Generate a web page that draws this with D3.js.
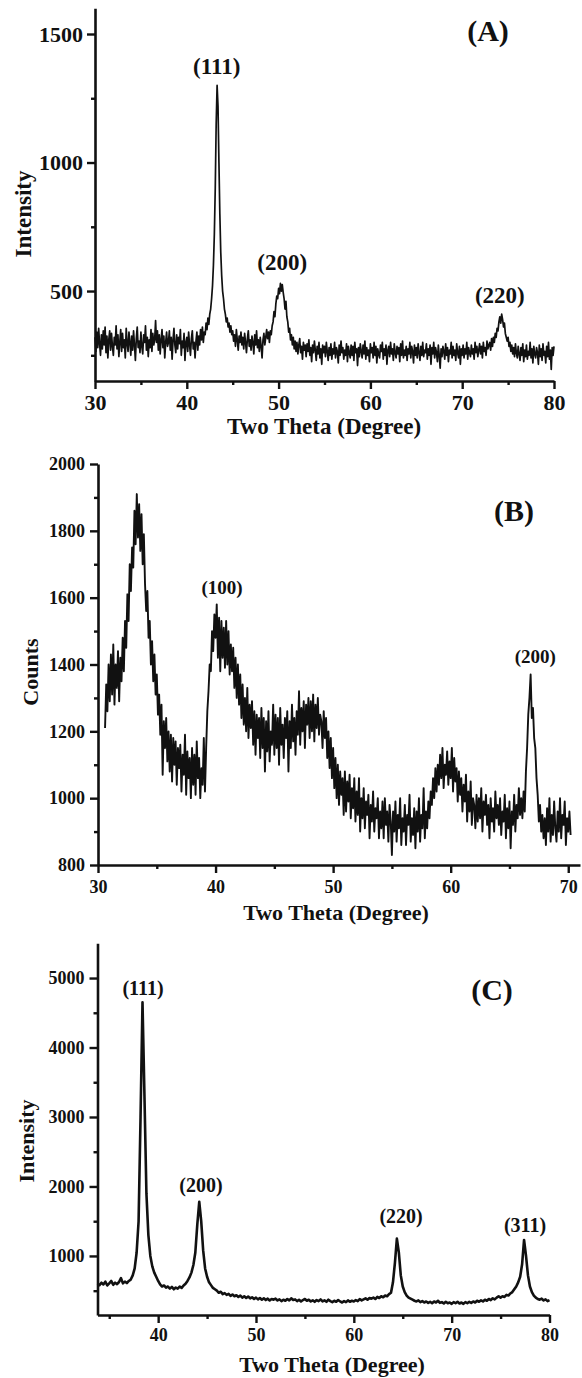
<!DOCTYPE html>
<html><head><meta charset="utf-8">
<script src="https://cdn.jsdelivr.net/npm/d3@7"></script>
<style>body{margin:0;background:#fff}svg{display:block}</style>
</head><body>
<svg id="chart" width="582" height="1378"></svg>
<script>
// ---------- Panel A data (2θ from 30.0, step 0.1) ----------
const startA = 30.0, stepA = 0.1;
const intensityA = [
320,265,340,280,355,295,250,330,275,345,
290,360,260,325,240,310,345,270,335,285,
250,320,290,365,275,330,245,300,350,265,
335,280,310,240,355,295,265,340,300,250,
325,270,345,290,230,315,360,280,305,260,
340,285,255,330,300,365,270,320,245,310,
280,350,265,335,290,310,385,300,345,270,
330,255,310,350,280,325,240,300,340,285,
300,345,270,320,235,310,355,290,260,330,
275,320,295,350,250,305,280,335,230,300,
320,265,340,290,250,315,345,275,300,240,
305,340,270,325,290,350,310,360,300,340,
330,375,350,395,370,410,430,470,520,600,
720,900,1150,1300,1220,1000,800,650,560,500,
470,430,410,380,395,360,375,340,365,330,
345,305,330,285,350,310,270,325,300,340,
290,320,275,335,300,260,315,345,285,310,
270,325,300,255,330,290,345,280,310,265,
320,285,240,310,335,290,320,350,315,340,
300,345,330,365,380,420,400,450,480,470,
510,490,530,500,525,495,470,430,460,400,
380,340,355,310,330,290,320,275,305,265,
300,255,290,315,260,285,235,300,270,290,
245,295,265,310,250,280,225,290,260,305,
270,230,285,255,300,240,275,215,290,260,
285,245,300,265,230,280,250,295,235,275,
255,300,240,280,265,220,290,250,305,260,
280,235,270,250,295,225,285,260,240,290,
250,285,230,300,260,275,210,280,245,295,
265,240,290,255,305,235,280,250,270,225,
295,260,280,240,300,250,285,220,275,255,
240,290,265,300,235,275,250,290,215,270,
285,245,300,255,275,230,295,260,240,285,
255,280,225,295,250,305,240,270,250,285,
230,275,255,300,240,285,265,220,290,250,
280,240,295,260,230,285,250,300,245,270,
260,295,235,275,250,290,215,280,255,300,
240,280,260,225,290,250,200,275,245,285,
265,235,295,250,280,225,270,255,300,240,
285,250,270,230,295,260,240,285,215,275,
250,290,240,275,255,300,235,280,260,245,
290,255,275,235,300,260,285,245,270,295,
255,285,240,300,265,280,250,305,275,290,
300,270,315,285,320,300,335,320,355,345,
380,400,375,410,390,360,375,335,320,305,
320,285,300,265,290,255,280,245,295,260,
240,285,255,230,280,250,295,225,270,245,
290,235,265,250,300,240,275,220,285,255,
240,280,260,215,290,245,275,230,295,250,
265,220,285,245,300,235,270,195,280,250,
285
];
const ticksA_xMajor = [30,40,50,60,70,80], ticksA_xMinor = [35,45,55,65,75];
const ticksA_yMajor = [500,1000,1500], ticksA_yMinor = [250,750,1250];
const peakNamesA = ["(111)","(200)","(220)"];
const peakThetaA = [43.26,50.4,74.1];
const peakLabelValA = [1346,582,455];

// ---------- Panel B data (2θ from 30.6, step 0.1) ----------
const startB = 30.6, stepB = 0.1;
const countsB = [
1210,1340,1260,1400,
1290,1430,1310,1460,1280,1400,1330,1440,1290,1420,
1350,1480,1380,1530,1450,1610,1530,1700,1620,1750,
1690,1860,1760,1910,1780,1880,1740,1850,1700,1790,
1640,1560,1620,1480,1530,1400,1470,1350,1430,1310,
1370,1250,1310,1190,1280,1070,1230,1150,1240,1110,
1200,1080,1190,1050,1180,1100,1170,1040,1150,1090,
1160,1020,1130,1070,1190,1010,1140,1060,1120,1000,
1150,1040,1130,1010,1170,1060,1120,1000,1090,1040,
1180,1020,1150,1260,1320,1400,1380,1500,1440,1550,
1480,1580,1420,1540,1380,1530,1420,1510,1390,1530,
1400,1500,1370,1460,1380,1450,1330,1420,1300,1400,
1280,1370,1240,1340,1220,1300,1200,1330,1180,1280,
1210,1290,1160,1260,1130,1250,1180,1240,1120,1270,
1150,1240,1080,1230,1140,1260,1110,1200,1160,1280,
1130,1250,1150,1240,1100,1270,1160,1220,1120,1240,
1180,1260,1080,1230,1150,1280,1170,1240,1130,1260,
1190,1320,1160,1270,1200,1290,1150,1280,1220,1300,
1180,1290,1200,1310,1170,1280,1210,1300,1190,1250,
1230,1150,1260,1180,1240,1120,1200,1090,1180,1060,
1150,1030,1120,1000,1100,980,1080,1010,1060,950,
1080,960,1050,990,1070,940,1030,970,1060,930,
1020,950,1060,900,1000,940,1030,910,990,950,
1010,880,980,930,1020,900,970,940,1000,880,
960,910,990,880,1000,920,960,870,980,930,
830,960,900,990,870,950,910,1000,860,940,
900,980,860,950,920,1010,870,940,890,970,
850,960,900,1000,870,950,910,1030,880,960,
910,990,940,1020,980,1060,1000,1090,1020,1100,
1040,1130,1060,1150,1030,1100,1070,1140,1040,1110,
1060,1150,1020,1120,1050,1090,990,1080,1010,1060,
960,1040,990,1070,930,1020,960,1050,920,1000,
980,910,1010,930,1000,940,1030,900,990,950,
1010,920,980,880,1000,930,970,900,1020,940,
980,920,1000,890,960,930,1010,880,970,910,
990,850,960,920,1010,900,980,940,1030,950,
1000,940,1020,960,1080,1150,1250,1300,1370,1240,
1270,1180,1150,1060,1010,930,980,900,950,880,
940,860,970,900,1000,870,950,890,990,910,
870,960,900,1000,880,950,920,990,860,940,
900,960,890
];
const ticksB_xMajor = [30,40,50,60,70], ticksB_xMinor = [35,45,55,65];
const ticksB_yMajor = [800,1000,1200,1400,1600,1800,2000], ticksB_yMinor = [900,1100,1300,1500,1700,1900];
const peakNamesB = ["(100)","(200)"];
const peakThetaB = [40.55,67.2];
const peakLabelValB = [1611,1405];

// ---------- Panel C data (2θ from 33.8, step 0.2) ----------
const startC = 33.8, stepC = 0.2;
const intensityC = [
600,
580,615,590,630,575, 605,640,585,615,595, 625,680,605,630,610, 640,660,720,820,1050,
1500,3000,4650,3300,1900, 1300,1000,850,760,700, 640,590,560,575,545, 560,530,555,520,545,
530,560,540,575,600, 640,690,760,870,1050, 1450,1780,1500,1080,820, 700,620,580,540,520,
500,470,485,450,465, 440,455,425,445,420, 435,410,430,400,420, 395,415,390,405,380,
400,375,395,370,390, 365,385,360,380,370, 385,360,375,350,370, 355,380,360,390,365,
375,350,370,345,365, 380,355,370,345,360, 340,365,350,375,345, 360,340,370,350,335,
355,340,365,345,330, 350,335,360,340,355, 345,365,350,380,360, 375,390,370,395,385,
400,380,410,395,420, 405,430,420,450,470, 620,900,1250,1050,720, 560,480,430,400,385,
370,355,345,360,335, 350,330,345,325,340, 320,345,330,355,325, 335,315,340,320,330,
310,335,320,340,315, 330,310,335,320,340, 325,345,330,355,340, 360,345,370,355,380,
365,390,375,400,420, 400,420,410,440,430, 460,480,520,560,620, 700,880,1230,1000,720,
560,480,430,400,380, 370,385,360,375,350,
365
];
const ticksC_xMajor = [40,50,60,70,80], ticksC_xMinor = [35,45,55,65,75];
const ticksC_yMajor = [1000,2000,3000,4000,5000], ticksC_yMinor = [500,1500,2500,3500,4500];
const peakNamesC = ["(111)","(200)","(220)","(311)"];
const peakThetaC = [38.45,44.38,64.83,77.5];
const peakLabelValC = [4756,1921,1475,1345];

const xTitle = "Two Theta (Degree)";

const FONT = "'Liberation Serif','Times New Roman',serif";
const svg = d3.select("#chart");

function panel(o) {
  const g = svg.append("g");
  const x = d3.scaleLinear().domain(o.xDomain).range(o.xRange);
  const y = d3.scaleLinear().domain(o.yDomain).range(o.yRange);
  const pts = o.values.map((v, i) => [o.start + i * o.step, v]);

  g.append("path").datum(pts)
    .attr("fill", "none").attr("stroke", "#111")
    .attr("stroke-width", o.lw).attr("stroke-linejoin", "round")
    .attr("d", d3.line().x(d => x(d[0])).y(d => y(d[1])));

  const y0 = o.yRange[0], x0 = o.xRange[0];
  g.append("g").attr("transform", `translate(0,${y0})`)
    .call(d3.axisBottom(x).tickValues(o.xMinor).tickSize(4).tickSizeOuter(0).tickFormat(""))
    .call(a => a.select(".domain").remove());
  g.append("g").attr("transform", `translate(${x0},0)`)
    .call(d3.axisLeft(y).tickValues(o.yMinor).tickSize(4).tickSizeOuter(0).tickFormat(""))
    .call(a => a.select(".domain").remove());
  const xa = g.append("g").attr("transform", `translate(0,${y0})`)
    .call(d3.axisBottom(x).tickValues(o.xMajor).tickSize(8).tickSizeOuter(0).tickPadding(o.xPad).tickFormat(d3.format("d")));
  const ya = g.append("g").attr("transform", `translate(${x0},0)`)
    .call(d3.axisLeft(y).tickValues(o.yMajor).tickSize(8).tickSizeOuter(0).tickPadding(o.yPad).tickFormat(d3.format("d")));
  [xa, ya].forEach(a => {
    a.attr("font-family", FONT).attr("font-size", o.tickFs).attr("font-weight", "bold");
    a.selectAll("text").attr("fill", "#111");
  });
  g.selectAll(".domain").attr("stroke", "#111").attr("stroke-width", 2.6);
  g.selectAll(".tick line").attr("stroke", "#111").attr("stroke-width", 2.4);

  g.append("text").attr("x", o.xTitlePos[0]).attr("y", o.xTitlePos[1])
    .attr("text-anchor", "middle").attr("font-family", FONT).attr("font-weight", "bold")
    .attr("font-size", o.titleFs).attr("fill", "#111").text(xTitle);
  g.append("text").attr("transform", `translate(${o.yTitlePos[0]},${o.yTitlePos[1]}) rotate(-90)`)
    .attr("text-anchor", "middle").attr("dominant-baseline", "central")
    .attr("font-family", FONT).attr("font-weight", "bold")
    .attr("font-size", o.titleFs).attr("fill", "#111").text(o.yTitle);

  g.append("text").attr("x", o.letterPos[0]).attr("y", o.letterPos[1])
    .attr("text-anchor", "middle").attr("font-family", FONT).attr("font-weight", "bold")
    .attr("font-size", 30).attr("fill", "#111").text(o.letter);

  g.selectAll("text.peak").data(o.peakNames).enter().append("text")
    .attr("class", "peak")
    .attr("x", (d, i) => x(o.peakTheta[i])).attr("y", (d, i) => y(o.peakVal[i]))
    .attr("text-anchor", "middle").attr("font-family", FONT).attr("font-weight", "bold")
    .attr("font-size", o.peakFs).attr("fill", "#111").text(d => d);
}

panel({
  values: intensityA, start: startA, step: stepA,
  xDomain: [30, 80], xRange: [95, 554], yDomain: [150, 1600], yRange: [381, 8.3],
  xMajor: ticksA_xMajor, xMinor: ticksA_xMinor, yMajor: ticksA_yMajor, yMinor: ticksA_yMinor,
  tickFs: 22, xPad: 5, yPad: 4, lw: 1.7,
  titleFs: 23, xTitlePos: [324, 434], yTitle: "Intensity", yTitlePos: [23, 214],
  letter: "(A)", letterPos: [488, 41],
  peakNames: peakNamesA, peakTheta: peakThetaA, peakVal: peakLabelValA, peakFs: 23
});
panel({
  values: countsB, start: startB, step: stepB,
  xDomain: [30, 71], xRange: [98, 580], yDomain: [800, 2000], yRange: [865, 464],
  xMajor: ticksB_xMajor, xMinor: ticksB_xMinor, yMajor: ticksB_yMajor, yMinor: ticksB_yMinor,
  tickFs: 18, xPad: 7, yPad: 5, lw: 1.9,
  titleFs: 22, xTitlePos: [336, 920], yTitle: "Counts", yTitlePos: [30, 672],
  letter: "(B)", letterPos: [514, 521],
  peakNames: peakNamesB, peakTheta: peakThetaB, peakVal: peakLabelValB, peakFs: 19
});
panel({
  values: intensityC, start: startC, step: stepC,
  xDomain: [33.8, 80], xRange: [97.5, 549.5], yDomain: [150, 5500], yRange: [1315, 943.3],
  xMajor: ticksC_xMajor, xMinor: ticksC_xMinor, yMajor: ticksC_yMajor, yMinor: ticksC_yMinor,
  tickFs: 18, xPad: 5, yPad: 5, lw: 2.6,
  titleFs: 22, xTitlePos: [332, 1372], yTitle: "Intensity", yTitlePos: [26, 1141],
  letter: "(C)", letterPos: [492, 1000],
  peakNames: peakNamesC, peakTheta: peakThetaC, peakVal: peakLabelValC, peakFs: 20
});
</script>
</body></html>
